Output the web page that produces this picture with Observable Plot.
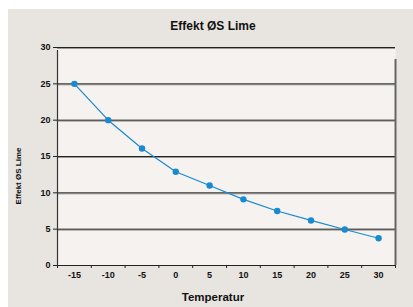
<!DOCTYPE html>
<html>
<head>
<meta charset="utf-8">
<script src="https://cdn.jsdelivr.net/npm/d3@7"></script>
<script src="https://cdn.jsdelivr.net/npm/@observablehq/plot@0.6"></script>
<style>
  html, body { margin: 0; padding: 0; background: #ffffff; width: 413px; height: 307px; overflow: hidden; }
  #panel { position: absolute; left: 8px; top: 9px; width: 405px; height: 298px; background: #e8e4e0; font-family: "Liberation Sans", Arial, Helvetica, sans-serif; }
  #chart { position: absolute; left: 0; top: 0; }
  .title { position: absolute; left: 0; width: 405px; padding-left: 5px; box-sizing: border-box; text-align: center; font-weight: bold; color: #111; }
  #ttl { top: 11px; font-size: 12px; line-height: 12px; }
  #xl { top: 282px; font-size: 11.5px; line-height: 12px; }
  #yl { position: absolute; left: 10px; top: 167px; font-size: 8px; font-weight: bold; color: #111; white-space: nowrap; transform: translate(-50%, -50%) rotate(-90deg); }
</style>
</head>
<body>
<div id="panel">
  <div id="chart"></div>
  <div class="title" id="ttl">Effekt ØS Lime</div>
  <div class="title" id="xl">Temperatur</div>
  <div id="yl">Effekt ØS Lime</div>
</div>
<script>
const temperatures = [-15, -10, -5, 0, 5, 10, 15, 20, 25, 30];
const effect = [25.0, 20.0, 16.1, 12.9, 11.0, 9.1, 7.5, 6.2, 4.95, 3.75];
const yTicks = [0, 5, 10, 15, 20, 25, 30];
const xTickLabels = ["-15", "-10", "-5", "0", "5", "10", "15", "20", "25", "30"];

const data = temperatures.map((t, i) => ({t, v: effect[i], label: xTickLabels[i]}));
const half = 2.5;
const xMin = temperatures[0] - half;
const xMax = temperatures[temperatures.length - 1] + half;
const boundaries = [...temperatures.map(t => t - half), xMax];

const plot = Plot.plot({
  width: 405,
  height: 298,
  marginTop: 38,
  marginBottom: 42,
  marginLeft: 49,
  marginRight: 18,
  style: { background: "transparent", fontFamily: "Liberation Sans, Arial, sans-serif", fontSize: "9px", color: "#111" },
  x: { type: "linear", domain: [xMin, xMax] },
  y: { domain: [0, 30] },
  marks: [
    Plot.frame({ fill: "#f5f2ef", stroke: null }),
    Plot.ruleY(yTicks.filter(d => d > 0), { stroke: "#999", strokeWidth: 1, dy: 1 }),
    Plot.ruleY(yTicks.filter(d => d > 0), { stroke: "#222", strokeWidth: 1 }),
    Plot.ruleY([0], { stroke: "#222", strokeWidth: 1.2, insetLeft: -2 }),
    Plot.ruleX([xMin], { y1: 0, y2: 30, stroke: "#333", strokeWidth: 1.2, insetBottom: -3 }),
    Plot.ruleX([xMax], { y1: 0, y2: 30, stroke: "#666", strokeWidth: 2, insetBottom: -12 }),
    Plot.axisY({ ticks: yTicks, tickSize: 4, tickPadding: 3, label: null, fontWeight: "bold", stroke: "#222" }),
    Plot.axisX({ ticks: boundaries, tickSize: 3, tickFormat: () => "", label: null, stroke: "#222" }),
    Plot.text(data, { x: "t", text: "label", frameAnchor: "bottom", dy: 12, fontWeight: "bold", fill: "#111" }),
    Plot.line(data, { x: "t", y: "v", stroke: "#1a8ad0", strokeWidth: 1.2 }),
    Plot.dot(data, { x: "t", y: "v", r: 3.2, fill: "#1a8ad0", stroke: null })
  ]
});
document.getElementById("chart").appendChild(plot);
</script>
</body>
</html>
